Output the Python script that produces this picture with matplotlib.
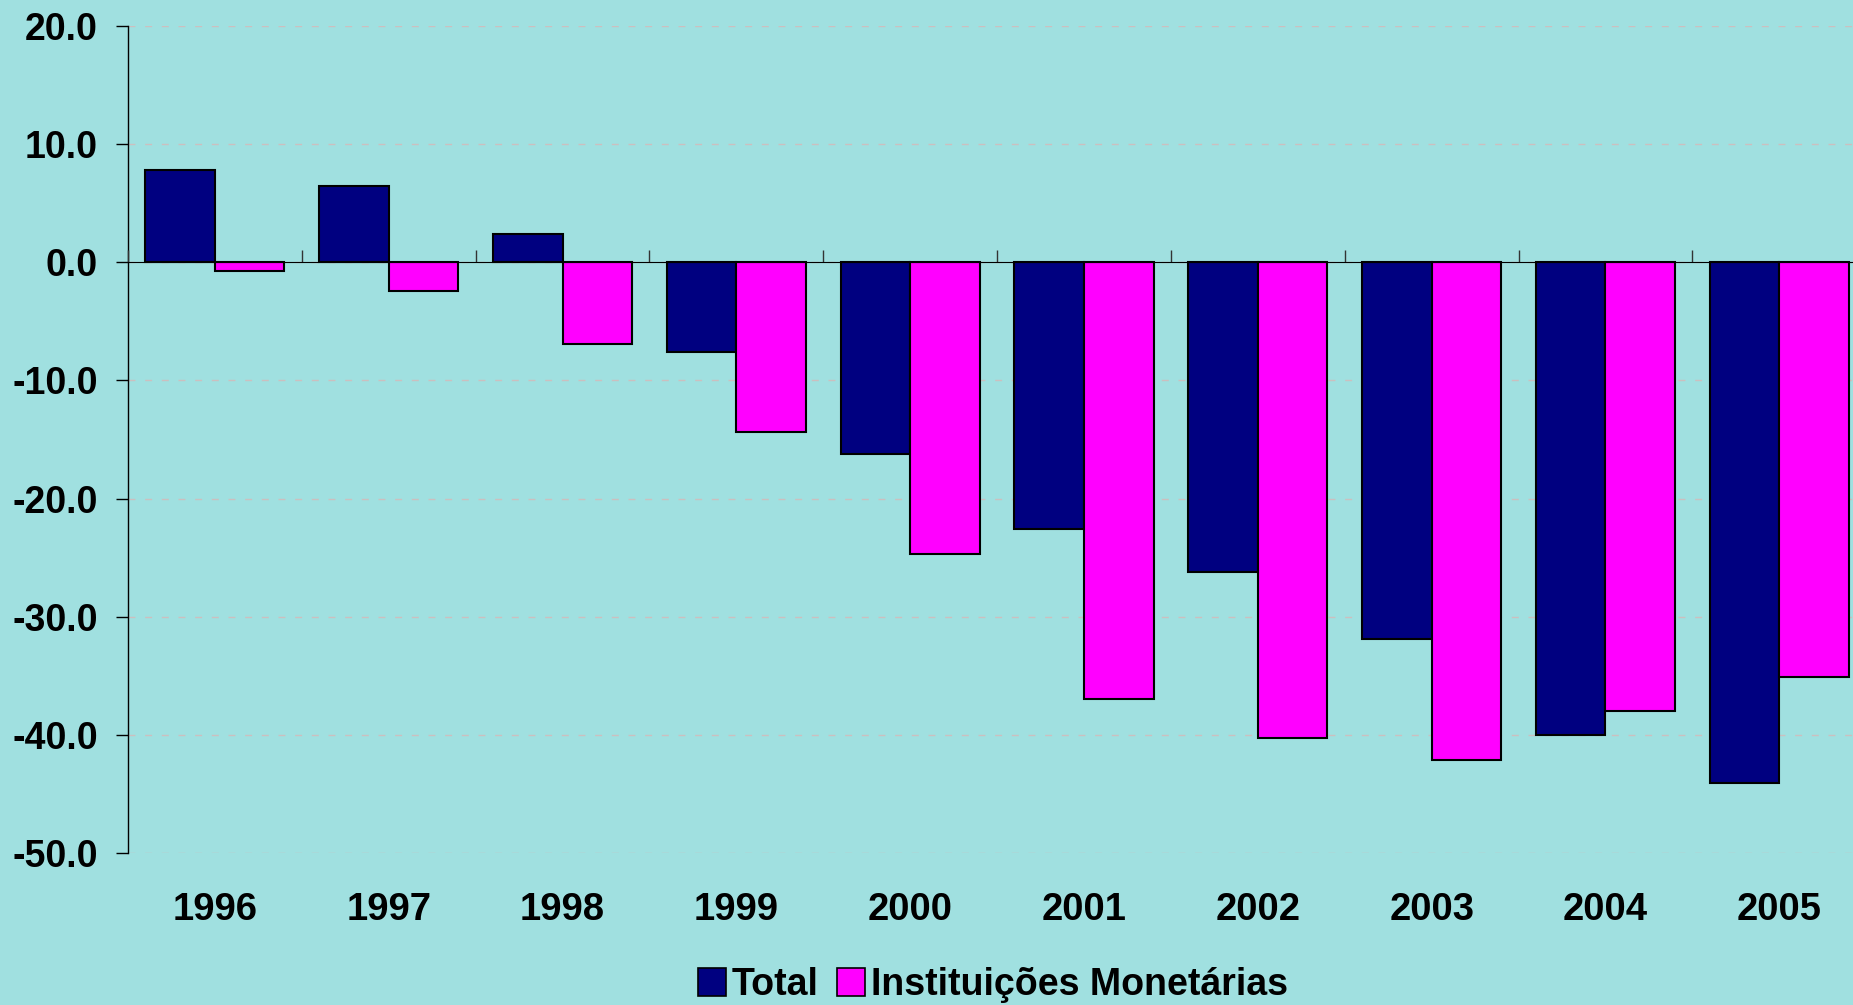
import matplotlib.pyplot as plt
import matplotlib.patches as mpatches
import numpy as np

# 数据
anos = ['1996', '1997', '1998', '1999', '2000', '2001', '2002', '2003', '2004', '2005']
total = [7.8, 6.5, 2.4, -7.6, -16.2, -22.6, -26.2, -31.9, -40.0, -44.1]
inst_monetarias = [-0.7, -2.4, -6.9, -14.4, -24.7, -37.0, -40.3, -42.1, -38.0, -35.1]
y_ticks = [20, 10, 0, -10, -20, -30, -40, -50]

bg = '#A0E0E0'
cor_total = '#000080'
cor_inst = '#FF00FF'


def Drawing():
    plt.rcParams['font.family'] = ['Liberation Sans', 'DejaVu Sans']
    plt.rcParams['font.weight'] = 'bold'

    fig = plt.figure(figsize=(18.53, 10.05), dpi=100, facecolor=bg)
    ax = fig.add_axes([0.0691, 0.1512, 0.938, 0.8229])
    ax.set_facecolor(bg)

    x = np.arange(len(anos))
    w = 0.4
    ax.bar(x - w / 2, total, w, color=cor_total, edgecolor='black', linewidth=1.5, zorder=3)
    ax.bar(x + w / 2, inst_monetarias, w, color=cor_inst, edgecolor='black', linewidth=1.5, zorder=3)

    ymin, ymax = -50, 20
    ax.set_ylim(ymin, ymax)
    ax.set_xlim(-0.5, len(anos) - 0.5)

    # 网格线
    ax.set_yticks(y_ticks)
    ax.set_yticklabels(['%.1f' % v for v in y_ticks], fontsize=27, fontweight='bold')
    ax.yaxis.grid(True, linestyle=(0, (5, 7)), color='#CCBFBF', linewidth=1)
    ax.set_axisbelow(True)
    ax.tick_params(axis='y', length=8.6, width=1, pad=13, direction='out')

    # 坐标轴
    for s in ['top', 'right', 'bottom']:
        ax.spines[s].set_visible(False)
    ax.spines['left'].set_linewidth(1)

    ax.set_xticks(x)
    ax.set_xticklabels(anos, fontsize=27.5, fontweight='bold')
    ax.tick_params(axis='x', length=0, pad=28)

    # 零线及刻度
    sec = ax.secondary_xaxis((0 - ymin) / (ymax - ymin))
    sec.set_xticks(np.arange(len(anos) + 1) - 0.5)
    sec.set_xticklabels([])
    sec.tick_params(length=8.6, width=1, direction='out', color='#333333')
    sec.spines['bottom'].set_color('#444444')
    sec.spines['bottom'].set_linewidth(1)
    sec.set_zorder(4)

    # 图例
    h1 = mpatches.Patch(facecolor=cor_total, edgecolor='black', linewidth=1.2)
    h2 = mpatches.Patch(facecolor=cor_inst, edgecolor='black', linewidth=1.2)
    fig.legend([h1, h2], ['Total', 'Instituições Monetárias'], loc='center',
               bbox_to_anchor=(993 / 1853, 1 - 985 / 1005), ncol=2, frameon=False,
               prop={'size': 27, 'weight': 'bold'}, handlelength=0.75, handleheight=0.75,
               handletextpad=0.15, columnspacing=0.5)

    fig.savefig('out.png', dpi=100, facecolor=bg)


def main():
    Drawing()


if __name__ == "__main__":
    main()
